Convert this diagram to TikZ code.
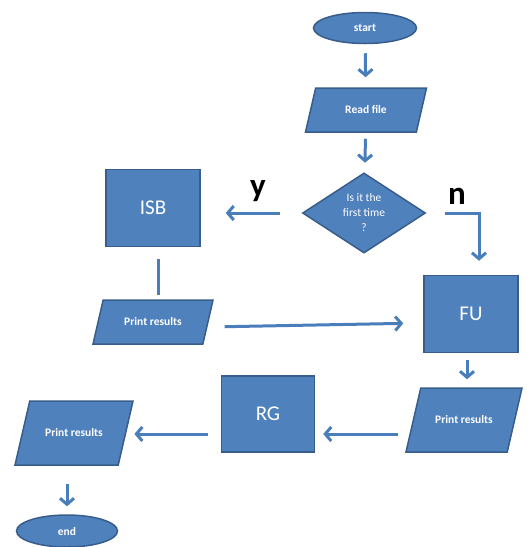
\documentclass[tikz,border=0pt]{standalone}
\usepackage{fontspec}
\setmainfont{Carlito}
\usetikzlibrary{shapes.geometric,arrows.meta}
\definecolor{boxblue}{RGB}{79,129,189}
\definecolor{boxedge}{RGB}{56,93,138}
\definecolor{arrowblue}{RGB}{74,126,187}

\begin{document}
\begin{tikzpicture}[x=1pt, y=-1pt,
    box/.style={draw=boxedge, line width=1.5pt, fill=boxblue, text=white, inner sep=0pt},
    process/.style={box, rectangle, minimum width=94pt, minimum height=77pt, font=\fontsize{21}{25}\selectfont},
    io/.style={box, trapezium, trapezium left angle=77, trapezium right angle=103, trapezium stretches body=true, font=\bfseries\fontsize{11.5}{13}\selectfont},
    iolow/.style={io, text height=25.5pt, text depth=18.5pt},
    iohigh/.style={io, text height=35.5pt, text depth=28.5pt},
    terminal/.style={box, ellipse, minimum width=103pt, minimum height=31pt, font=\bfseries\fontsize{11.5}{13}\selectfont},
    decision/.style={box, diamond, minimum width=123pt, minimum height=77pt, align=center, font=\fontsize{11.5}{15}\selectfont},
    flow/.style={draw=arrowblue, line width=3pt, -{Straight Barb[length=6pt, width=14pt]}},
    branch/.style={font=\bfseries\fontsize{33}{33}\selectfont}]
    \useasboundingbox (0,0) rectangle (530,547);

    % Start and input
    \node[terminal] (start) at (365, 28) {start};
    \node[iolow, minimum width=121pt] (read) at (366, 110) {Read file};
    \draw[flow, shorten <=9pt, shorten >=10pt] (start) -- (read);

    % Decision
    \node[decision] (dec) at (364, 213) {Is it the\\first time\\?};
    \draw[flow, shorten <=6pt, shorten >=10pt] (read) -- (dec);

    % Yes branch
    \node[process] (isb) at (153, 208) {ISB};
    \node[branch] (ylab) at (258, 191) {y};
    \draw[flow, shorten <=22pt, shorten >=25pt] (dec.west) -- (dec.west -| isb.east);
    \node[iolow, minimum width=120pt] (pmid) at (153, 322) {Print results};
    \draw[draw=arrowblue, line width=3pt, shorten <=12pt, shorten >=4pt] ([xshift=5pt]isb.south) -- ([xshift=5pt]isb.south |- pmid.north);

    % No branch
    \node[process] (fu) at (471, 314) {FU};
    \node[branch] (nlab) at (457, 196) {n};
    \draw[flow, shorten <=19pt, shorten >=14pt] (dec.east) -| ([xshift=8pt]fu.north);
    \draw[flow, shorten <=16pt, shorten >=20pt] ([yshift=-5pt]pmid.east) -- ([yshift=-9pt]fu.west);

    % Results
    \node[iohigh, minimum width=116pt] (pright) at (464, 420) {Print results};
    \draw[flow, shorten <=7pt, shorten >=8pt] ([xshift=-4pt]fu.south) -- ([xshift=-4pt]fu.south |- pright.north);
    \node[process, minimum width=93pt, minimum height=76pt] (rg) at (268, 414) {RG};
    \draw[flow, shorten <=15pt, shorten >=8pt] ([yshift=-14pt]pright.west) -- ([yshift=-14pt]pright.west -| rg.east);
    \node[iohigh, minimum width=118pt] (pleft) at (74, 433) {Print results};
    \draw[flow, shorten <=13pt, shorten >=8pt] ([yshift=-20pt]rg.west) -- ([yshift=-20pt]rg.west -| pleft.east);

    % End
    \node[terminal, minimum width=101pt, minimum height=32pt] (stop) at (67, 531) {end};
    \draw[flow, shorten <=18pt, shorten >=8pt] (stop |- pleft.south) -- (stop);
\end{tikzpicture}
\end{document}
